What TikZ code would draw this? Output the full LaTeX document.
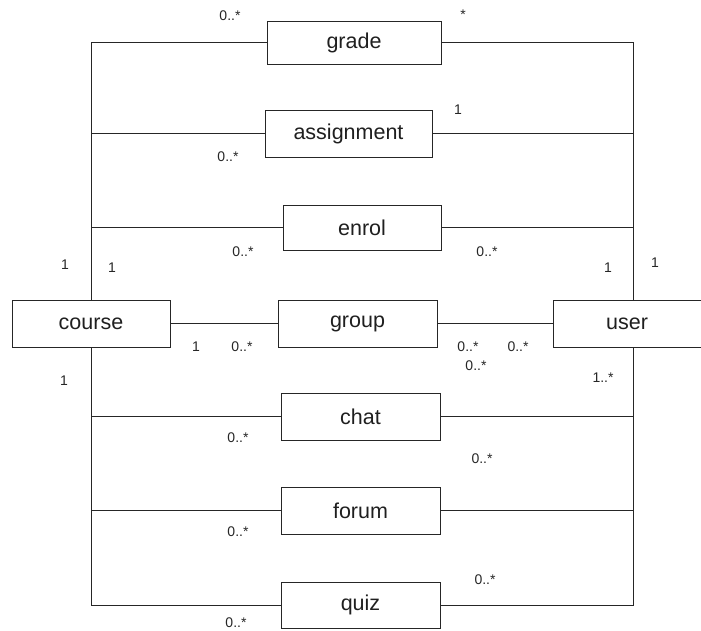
\documentclass[tikz,border=0pt]{standalone}
\usepackage{fontspec}
\setmainfont{Liberation Sans}
\begin{document}
\begin{tikzpicture}[x=1pt,y=-1pt,
  entity/.style={draw=black!85,line width=1pt,inner sep=0pt,text=black!88,font=\fontsize{21.5}{24}\selectfont},
  link/.style={draw=black!85,line width=0.9pt},
  mult/.style={font=\fontsize{14}{16}\selectfont,text=black!85,inner sep=0pt}]
\useasboundingbox (0,0) rectangle (701,630);
% classes
\node[entity,minimum width=174,minimum height=43] (grade) at (354,42.5) {grade};
\node[entity,minimum width=167,minimum height=47] (assignment) at (348.5,133.5) {assignment};
\node[entity,minimum width=158,minimum height=45] (enrol) at (362,227.5) {enrol};
\node[entity,minimum width=159,minimum height=47] (group) at (357.5,323.5) {group};
\node[entity,minimum width=159,minimum height=47] (chat) at (360.5,416.5) {chat};
\node[entity,minimum width=159,minimum height=47] (forum) at (360.5,510.5) {forum};
\node[entity,minimum width=159,minimum height=46] (quiz) at (360.5,605) {quiz};
\node[entity,minimum width=158,minimum height=47] (course) at (91,323.5) {course};
\node[entity,minimum width=160,minimum height=47] (user) at (633,323.5) {\hspace*{-12pt}user};
% associations to course
\foreach \n in {grade,assignment,enrol} \draw[link] (\n.west) -| (course.north);
\foreach \n in {chat,forum,quiz} \draw[link] (\n.west) -| (course.south);
% associations to user
\foreach \n in {grade,assignment,enrol} \draw[link] (\n.east) -| (user.north);
\foreach \n in {chat,forum,quiz} \draw[link] (\n.east) -| (user.south);
\draw[link] (course.east) -- (group.west);
\draw[link] (group.east) -- (user.west);
% multiplicities
\node[mult] (m1) at (230,16) {0..*};
\node[mult] (m2) at (463,15) {*};
\node[mult] (m3) at (458,110) {1};
\node[mult] (m4) at (228,157) {0..*};
\node[mult] (m5) at (243,252) {0..*};
\node[mult] (m6) at (487,252) {0..*};
\node[mult] (m7) at (65,265) {1};
\node[mult] (m8) at (112,268) {1};
\node[mult] (m9) at (608,268) {1};
\node[mult] (m10) at (655,263) {1};
\node[mult] (m11) at (196,347) {1};
\node[mult] (m12) at (242,347) {0..*};
\node[mult] (m13) at (468,347) {0..*};
\node[mult] (m14) at (518,347) {0..*};
\node[mult] (m15) at (64,381) {1};
\node[mult] (m16) at (603,378) {1..*};
\node[mult] (m17) at (476,366) {0..*};
\node[mult] (m18) at (238,438) {0..*};
\node[mult] (m19) at (482,459) {0..*};
\node[mult] (m20) at (238,532) {0..*};
\node[mult] (m21) at (485,580) {0..*};
\node[mult] (m22) at (236,623) {0..*};
\end{tikzpicture}
\end{document}
